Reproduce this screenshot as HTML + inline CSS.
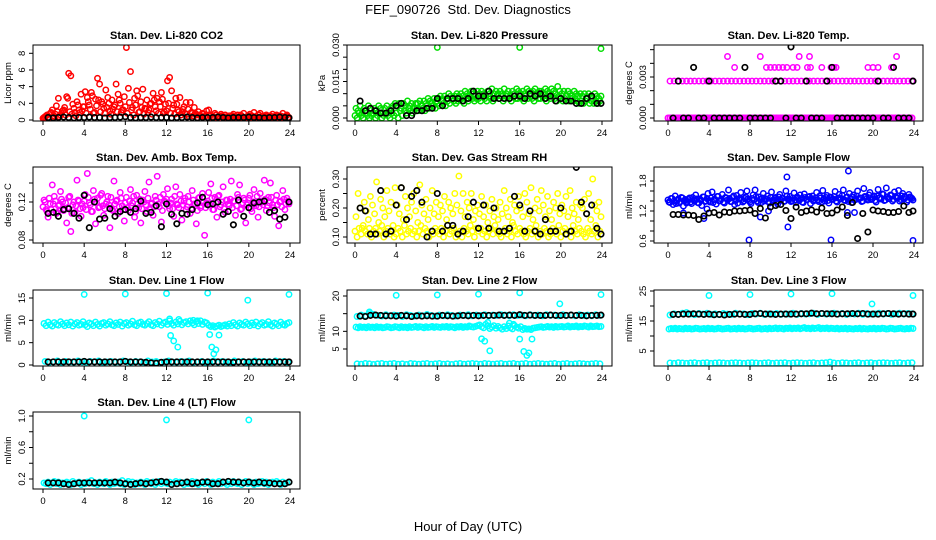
<!DOCTYPE html>
<html><head><meta charset="utf-8"><style>
html,body{margin:0;padding:0;background:#fff}
svg{display:block;font-family:"Liberation Sans",Arial,sans-serif}
</style></head><body>
<svg id="chart" width="936" height="540" viewBox="0 0 936 540" xmlns="http://www.w3.org/2000/svg">
<rect x="0" y="0" width="936" height="540" fill="#fff"/>
<text x="468" y="14" text-anchor="middle" font-size="13" xml:space="preserve">FEF_090726  Std. Dev. Diagnostics</text>
<text x="468" y="531" text-anchor="middle" font-size="13">Hour of Day (UTC)</text>
</svg>
<script>
const hours=[0.1,0.3,0.5,0.7,0.9,1.1,1.3,1.5,1.7,1.9,2.1,2.3,2.5,2.7,2.9,3.1,3.3,3.5,3.7,3.9,4.1,4.3,4.5,4.7,4.9,5.1,5.3,5.5,5.7,5.9,6.1,6.3,6.5,6.7,6.9,7.1,7.3,7.5,7.7,7.9,8.1,8.3,8.5,8.7,8.9,9.1,9.3,9.5,9.7,9.9,10.1,10.3,10.5,10.7,10.9,11.1,11.3,11.5,11.7,11.9,12.1,12.3,12.5,12.7,12.9,13.1,13.3,13.5,13.7,13.9,14.1,14.3,14.5,14.7,14.9,15.1,15.3,15.5,15.7,15.9,16.1,16.3,16.5,16.7,16.9,17.1,17.3,17.5,17.7,17.9,18.1,18.3,18.5,18.7,18.9,19.1,19.3,19.5,19.7,19.9,20.1,20.3,20.5,20.7,20.9,21.1,21.3,21.5,21.7,21.9,22.1,22.3,22.5,22.7,22.9,23.1,23.3,23.5,23.7,23.9];
const hours2=[0.0,0.2,0.4,0.6,0.8,1.0,1.2,1.4,1.6,1.8,2.0,2.2,2.4,2.6,2.8,3.0,3.2,3.4,3.6,3.8,4.0,4.2,4.4,4.6,4.8,5.0,5.2,5.4,5.6,5.8,6.0,6.2,6.4,6.6,6.8,7.0,7.2,7.4,7.6,7.8,8.0,8.2,8.4,8.6,8.8,9.0,9.2,9.4,9.6,9.8,10.0,10.2,10.4,10.6,10.8,11.0,11.2,11.4,11.6,11.8,12.0,12.2,12.4,12.6,12.8,13.0,13.2,13.4,13.6,13.8,14.0,14.2,14.4,14.6,14.8,15.0,15.2,15.4,15.6,15.8,16.0,16.2,16.4,16.6,16.8,17.0,17.2,17.4,17.6,17.8,18.0,18.2,18.4,18.6,18.8,19.0,19.2,19.4,19.6,19.8,20.0,20.2,20.4,20.6,20.8,21.0,21.2,21.4,21.6,21.8,22.0,22.2,22.4,22.6,22.8,23.0,23.2,23.4,23.6,23.8];
const hoursB=[0.2,0.6,1.0,1.4,1.8,2.2,2.6,3.0,3.4,3.8,4.2,4.6,5.0,5.4,5.8,6.2,6.6,7.0,7.4,7.8,8.2,8.6,9.0,9.4,9.8,10.2,10.6,11.0,11.4,11.8,12.2,12.6,13.0,13.4,13.8,14.2,14.6,15.0,15.4,15.8,16.2,16.6,17.0,17.4,17.8,18.2,18.6,19.0,19.4,19.8,20.2,20.6,21.0,21.4,21.8,22.2,22.6,23.0,23.4,23.8];
const hoursK=[0.5,1.0,1.5,2.0,2.5,3.0,3.5,4.0,4.5,5.0,5.5,6.0,6.5,7.0,7.5,8.0,8.5,9.0,9.5,10.0,10.5,11.0,11.5,12.0,12.5,13.0,13.5,14.0,14.5,15.0,15.5,16.0,16.5,17.0,17.5,18.0,18.5,19.0,19.5,20.0,20.5,21.0,21.5,22.0,22.5,23.0,23.5,23.9];
const xTicks=[0,4,8,12,16,20,24];

// Panel 1: CO2
const co2A=[0.3,0.5,0.2,0.8,1.2,0.4,1.7,2.6,0.6,1.1,1.5,2.8,5.6,5.3,1.9,0.9,2.2,1.2,3.1,1.6,3.4,2.7,1.8,3.3,0.8,2.5,5.0,4.3,2.2,1.4,3.6,2.7,1.1,2.4,1.6,4.3,3.1,2.0,1.2,2.8,8.7,3.8,5.8,1.5,2.6,3.5,0.9,2.2,3.7,1.4,2.4,1.2,2.0,3.2,1.6,2.6,2.2,3.3,0.8,1.9,4.7,5.1,3.5,1.8,2.6,1.2,2.7,0.9,1.6,2.1,1.3,2.1,0.8,1.5,0.6,1.0,0.5,0.8,0.4,1.1,1.2,0.6,0.4,0.8,0.3,0.5,0.7,0.4,0.6,0.3,0.5,0.4,0.7,0.3,0.6,0.4,0.5,0.8,0.3,0.4,0.7,0.5,0.9,0.4,0.6,0.8,0.3,0.5,0.6,0.4,0.5,0.7,0.4,0.6,0.3,0.5,0.8,0.4,0.6,0.3];
const co2B=[0.2,0.4,0.6,0.3,0.9,0.5,0.7,1.0,0.4,0.8,1.2,0.6,2.6,1.0,0.7,1.4,0.5,1.8,0.9,1.1,1.6,0.8,2.2,1.3,2.9,0.9,1.7,2.4,1.0,1.9,0.8,1.5,2.0,0.7,1.3,1.8,1.0,2.4,0.9,1.2,1.6,0.8,2.1,1.2,0.6,1.8,2.9,1.0,1.5,0.7,1.3,0.9,1.9,0.7,2.4,1.1,0.8,1.6,2.5,1.0,1.1,2.0,0.8,1.4,0.7,1.9,1.0,0.6,1.3,0.8,0.7,0.4,0.9,0.5,0.8,0.3,0.6,0.4,0.7,0.5,0.3,0.5,0.2,0.4,0.6,0.3,0.2,0.5,0.3,0.4,0.2,0.3,0.5,0.2,0.4,0.3,0.6,0.2,0.3,0.4,0.5,0.3,0.2,0.4,0.3,0.6,0.2,0.4,0.3,0.5,0.2,0.4,0.3,0.5,0.2,0.3,0.4,0.2,0.5,0.3];
const co2Black=[0.3,0.25,0.3,0.35,0.3,0.25,0.3,0.3,0.35,0.3,0.3,0.25,0.3,0.3,0.35,0.4,0.3,0.25,0.3,0.3,0.35,0.3,0.3,0.3,0.25,0.3,0.3,0.35,0.3,0.25,0.3,0.3,0.3,0.35,0.3,0.25,0.3,0.3,0.3,0.35,0.3,0.3,0.25,0.3,0.3,0.35,0.3,0.25];

// Panel 2: Pressure
const presA=[.004,.003,.005,.002,.004,.003,.005,.004,.002,.004,.003,.005,.004,.002,.004,.005,.003,.004,.005,.006,.005,.006,.004,.006,.005,.007,.005,.006,.004,.006,.006,.007,.005,.007,.006,.008,.007,.006,.008,.007,.008,.009,.007,.009,.008,.010,.009,.008,.009,.010,.009,.010,.009,.011,.010,.009,.011,.010,.009,.011,.010,.011,.010,.009,.011,.010,.012,.010,.011,.010,.011,.010,.012,.010,.011,.009,.011,.010,.012,.011,.010,.011,.010,.012,.011,.010,.011,.012,.010,.011,.011,.010,.012,.011,.010,.012,.011,.010,.013,.011,.010,.011,.009,.011,.010,.009,.011,.010,.009,.010,.009,.010,.008,.010,.009,.008,.010,.009,.008,.009];
const presB=[.001,.000,.002,.001,.000,.002,.001,.000,.001,.002,.000,.001,.002,.000,.001,.002,.001,.000,.002,.001,.002,.000,.003,.001,.003,.002,.004,.003,.002,.004,.004,.003,.005,.004,.003,.005,.004,.006,.005,.004,.006,.005,.007,.006,.005,.007,.006,.008,.007,.006,.007,.008,.007,.006,.008,.007,.009,.008,.007,.008,.008,.007,.009,.008,.007,.009,.008,.007,.008,.009,.008,.009,.007,.008,.009,.008,.007,.009,.008,.008,.009,.008,.007,.009,.008,.009,.008,.007,.009,.008,.008,.009,.008,.007,.009,.008,.009,.008,.007,.009,.008,.007,.008,.009,.007,.008,.007,.008,.007,.006,.007,.006,.007,.008,.006,.007,.006,.007,.006,.007];
const presOutX=[8.0,16.0,23.9];
const presOutY=[0.029,0.029,0.0285];
const presBlack=[.007,.003,.004,.003,.002,.002,.003,.005,.006,.001,.001,.003,.003,.004,.004,.008,.005,.008,.008,.008,.007,.008,.011,.009,.009,.011,.008,.008,.008,.008,.009,.009,.008,.010,.009,.010,.008,.009,.007,.008,.007,.007,.006,.006,.008,.009,.006,.006];

// Panel 3: Li-820 Temp
const tempHigh=[.0027,.0027,.0027,.0027,.0027,.0027,.0027,.0027,.0027,.0027,.0027,.0027,.0027,.0027,.0027,.0027,.0027,.0027,.0027,.0027,.0027,.0027,.0027,.0027,.0027,.0027,.0027,.0027,.0027,.0027,.0027,.0027,.0027,.0027,.0027,.0027,.0027,.0027,.0027,.0027,.0027,.0027,.0027,.0027,.0027,.0027,.0027,.0027,.0027,.0027,.0027,.0027,.0027,.0027,.0027,.0027,.0027,.0027,.0027,.0027];
const tempLow=[0,0,0,0,0,0,0,0,0,0,0,0,0,0,0,0,0,0,0,0,0,0,0,0,0,0,0,0,0,0,0,0,0,0,0,0,0,0,0,0,0,0,0,0,0,0,0,0,0,0,0,0,0,0,0,0,0,0,0,0];
const tempExtraX=[5.8,6.5,9.0,9.6,10.0,10.4,10.8,11.2,11.6,12.2,12.6,12.8,13.6,13.8,13.9,15.0,15.9,16.2,16.4,19.5,20.0,20.5,21.8,22.3];
const tempExtraY=[.0045,.0037,.0045,.0037,.0037,.0037,.0037,.0037,.0037,.0037,.0037,.0045,.0037,.0045,.0037,.0037,.0037,.0037,.0037,.0037,.0037,.0037,.0037,.0045];
const tempBlack=[0,.0027,0,0,.0037,0,0,.0027,0,0,0,0,0,0,.0037,0,0,0,0,0,.0027,.0027,0,.0052,0,0,.0027,0,0,0,.0027,.0037,0,0,0,0,0,0,0,0,.0027,0,0,.0037,0,0,0,.0027];

// Panel 4: Amb box temp
const ambA=[.122,.112,.104,.118,.138,.126,.108,.116,.131,.120,.113,.098,.125,.089,.117,.109,.143,.121,.105,.114,.128,.150,.119,.110,.132,.097,.124,.115,.129,.106,.118,.126,.093,.112,.142,.121,.108,.130,.116,.100,.125,.111,.133,.119,.104,.127,.114,.098,.122,.131,.110,.141,.118,.106,.126,.147,.115,.099,.128,.120,.134,.113,.123,.105,.136,.117,.128,.101,.121,.112,.126,.108,.132,.118,.097,.124,.114,.129,.085,.119,.130,.139,.112,.125,.104,.127,.117,.136,.109,.122,.116,.142,.121,.106,.128,.138,.113,.124,.098,.119,.127,.110,.133,.116,.104,.129,.120,.143,.111,.125,.140,.117,.105,.127,.095,.121,.132,.112,.124,.118];
const ambB=[.115,.120,.110,.124,.112,.118,.121,.109,.117,.123,.111,.119,.114,.126,.108,.120,.116,.122,.113,.118,.121,.112,.125,.117,.110,.123,.119,.114,.127,.116,.113,.120,.117,.125,.111,.118,.122,.115,.124,.112,.119,.114,.121,.116,.126,.110,.118,.123,.113,.120,.117,.124,.112,.119,.115,.122,.118,.125,.111,.121,.123,.116,.119,.113,.126,.118,.114,.121,.117,.124,.115,.120,.113,.122,.118,.111,.125,.116,.120,.114,.121,.117,.124,.112,.119,.126,.115,.120,.113,.122,.118,.123,.114,.121,.116,.125,.112,.119,.122,.117,.124,.113,.120,.118,.126,.115,.121,.117,.123,.116,.119,.125,.114,.122,.117,.120,.115,.123,.118,.121];
const ambBlack=[.108,.109,.105,.112,.113,.108,.103,.127,.093,.120,.102,.103,.113,.105,.110,.112,.109,.113,.121,.108,.109,.116,.094,.118,.107,.097,.108,.107,.112,.119,.125,.117,.118,.120,.107,.110,.096,.122,.105,.114,.119,.120,.121,.109,.111,.102,.104,.120];

// Panel 5: Gas stream RH
const rhA=[.17,.25,.20,.13,.22,.19,.16,.24,.21,.18,.29,.15,.23,.20,.17,.26,.19,.22,.14,.27,.21,.18,.27,.16,.24,.20,.17,.22,.25,.19,.15,.28,.21,.18,.23,.16,.20,.26,.18,.22,.17,.21,.19,.24,.16,.22,.20,.18,.25,.21,.31,.19,.25,.17,.22,.20,.25,.16,.19,.21,.18,.24,.17,.21,.15,.19,.23,.17,.20,.16,.22,.18,.26,.20,.17,.23,.15,.21,.19,.24,.20,.17,.25,.22,.18,.27,.16,.20,.23,.19,.26,.21,.17,.24,.19,.16,.22,.20,.25,.18,.21,.19,.24,.17,.26,.20,.18,.22,.16,.21,.20,.23,.18,.25,.16,.30,.21,.19,.22,.17];
const rhB=[.12,.10,.13,.11,.14,.12,.11,.13,.10,.12,.13,.11,.12,.14,.10,.12,.13,.11,.12,.10,.11,.13,.12,.10,.14,.11,.12,.13,.11,.12,.10,.12,.14,.11,.13,.12,.10,.12,.11,.13,.12,.11,.13,.10,.12,.14,.11,.12,.13,.10,.11,.12,.10,.13,.12,.11,.14,.12,.10,.13,.12,.13,.11,.12,.10,.12,.13,.11,.14,.12,.11,.10,.12,.13,.11,.12,.10,.14,.12,.11,.13,.12,.11,.10,.12,.13,.11,.12,.14,.10,.12,.11,.13,.12,.10,.11,.13,.12,.11,.14,.10,.12,.13,.11,.12,.10,.14,.12,.11,.13,.12,.11,.10,.13,.12,.11,.12,.14,.10,.12];
const rhBlack=[.20,.19,.11,.11,.26,.11,.12,.21,.27,.16,.24,.26,.22,.10,.12,.25,.12,.14,.14,.11,.12,.17,.22,.13,.21,.13,.20,.12,.12,.13,.24,.21,.12,.19,.12,.11,.16,.12,.12,.20,.11,.12,.34,.22,.18,.21,.13,.11];

// Panel 6: Sample flow
const flowA=[1.38,1.45,1.33,1.50,1.41,1.36,1.47,1.30,1.43,1.39,1.46,1.35,1.42,1.52,1.37,1.44,1.31,1.48,1.40,1.55,1.38,1.58,1.43,1.34,1.49,1.41,1.53,1.36,1.46,1.62,1.39,1.47,1.33,1.51,1.44,1.57,1.38,1.45,1.60,1.41,1.35,1.52,1.62,1.40,1.48,1.37,1.55,1.43,1.50,1.36,1.58,1.42,1.47,1.34,1.53,1.45,1.39,1.60,1.44,1.49,1.41,1.56,1.37,1.46,1.52,1.38,1.54,1.43,1.48,1.35,1.50,1.42,1.57,1.39,1.46,1.61,1.40,1.51,1.36,1.47,1.44,1.59,1.38,1.53,1.45,1.62,1.41,1.48,1.55,1.37,1.52,1.43,1.60,1.46,1.39,1.65,1.48,1.42,1.57,1.44,1.50,1.38,1.63,1.47,1.54,1.41,1.66,1.45,1.52,1.40,1.58,1.46,1.61,1.43,1.55,1.49,1.38,1.53,1.47,1.42];
const flowB=[1.42,1.37,1.45,1.40,1.35,1.44,1.39,1.46,1.41,1.36,1.43,1.38,1.47,1.40,1.44,1.36,1.42,1.48,1.39,1.45,1.41,1.46,1.37,1.43,1.49,1.40,1.44,1.38,1.47,1.42,1.45,1.39,1.50,1.41,1.36,1.46,1.43,1.40,1.48,1.44,1.38,1.45,1.42,1.49,1.37,1.43,1.46,1.40,1.44,1.39,1.47,1.41,1.45,1.38,1.48,1.42,1.46,1.40,1.50,1.43,1.39,1.46,1.42,1.48,1.41,1.45,1.37,1.47,1.43,1.49,1.44,1.40,1.46,1.42,1.50,1.38,1.45,1.47,1.41,1.48,1.43,1.49,1.40,1.46,1.44,1.51,1.42,1.47,1.39,1.45,1.48,1.42,1.50,1.44,1.46,1.40,1.49,1.45,1.52,1.43,1.47,1.41,1.50,1.46,1.44,1.53,1.42,1.48,1.45,1.51,1.43,1.49,1.46,1.40,1.50,1.44,1.47,1.42,1.48,1.45];
const flowOutX=[1.5,3.5,3.8,7.9,9.0,9.8,11.6,11.7,15.9,17.6,17.5,18.2,23.9];
const flowOutY=[1.16,1.05,1.24,0.62,1.08,1.20,1.88,0.88,0.62,2.0,1.17,1.17,0.61];
const flowBlack=[1.13,1.13,1.12,1.12,1.11,1.03,1.10,1.16,1.17,1.12,1.18,1.17,1.20,1.20,1.21,1.22,1.15,1.25,1.06,1.28,1.31,1.33,1.21,1.05,1.28,1.17,1.20,1.22,1.18,1.26,1.15,1.16,1.22,1.28,1.11,1.37,0.65,1.15,0.78,1.22,1.20,1.19,1.17,1.17,1.19,1.30,1.17,1.20];

// Panel 7: Line 1
const l1Hi=[9.3,8.8,9.6,9.0,8.7,9.5,9.1,8.9,9.7,9.2,8.8,9.4,9.0,9.6,8.7,9.2,9.5,8.9,9.1,9.7,9.0,8.6,9.4,9.2,8.8,9.6,9.1,8.7,9.3,9.5,8.9,9.2,9.7,9.0,8.8,9.4,9.1,9.6,8.7,9.3,9.5,8.9,9.2,9.8,9.0,8.8,9.4,9.6,9.1,8.9,9.3,9.7,9.0,8.8,9.5,9.2,9.8,8.9,9.4,9.6,9.1,9.9,9.3,8.9,9.6,9.2,9.8,9.0,9.5,9.7,9.2,9.9,9.4,9.0,9.7,9.3,9.9,9.1,9.6,9.4,8.9,8.6,8.8,8.5,8.7,8.9,8.6,8.8,9.0,8.7,9.2,8.8,9.5,9.0,8.7,9.4,9.1,8.9,9.6,9.2,8.8,9.4,9.0,9.6,8.7,9.2,9.5,8.9,9.1,9.7,9.0,8.7,9.4,9.2,8.8,9.6,9.1,8.9,9.3,9.5];
const l1Lo=[0.8,0.6,0.7,0.9,0.6,0.8,0.7,0.6,0.9,0.7,0.6,0.8,0.7,0.9,0.6,0.7,0.8,0.6,0.7,0.9,0.7,0.6,0.8,0.7,0.6,0.9,0.7,0.8,0.6,0.7,0.9,0.7,0.6,0.8,0.7,0.9,0.6,0.7,0.8,0.6,0.7,0.9,0.6,0.8,0.7,0.6,0.9,0.7,0.8,0.6,0.7,0.9,0.6,0.8,0.7,0.6,0.9,0.7,0.8,0.6];
const l1OutX=[4,8,12,16,19.9,23.9,12.4,12.7,13.1,16.2,16.4,16.6,16.8,17.1,12.3,13.2,15.0,14.6];
const l1OutY=[15.8,15.9,16.0,16.1,14.5,15.8,6.6,5.4,4.0,6.8,4.0,2.5,3.4,6.7,10.3,10.2,9.9,10.0];
const l1Black=[0.7,0.7,0.7,0.7,0.7,0.7,0.7,0.8,0.7,0.7,0.7,0.7,0.7,0.7,0.7,0.8,0.7,0.7,0.7,0.6,0.5,0.4,0.6,0.7,0.7,0.7,0.7,0.7,0.7,0.7,0.7,0.7,0.7,0.7,0.7,0.7,0.6,0.7,0.7,0.7,0.7,0.7,0.7,0.7,0.7,0.7,0.7,0.7];

// Panel 8: Line 2
const l2Top=[14.2,14.6,14.4,15.0,14.8,14.5,14.3,14.7,14.4,14.6,14.5,14.2,14.7,14.5,14.3,14.6,14.4,14.8,14.5,14.3,14.6,14.4,14.7,14.5,14.3,14.6,14.5,14.7,14.4,14.6,14.5,14.7,14.4,14.6,14.5,14.7,14.6,14.4,14.7,14.5,14.6,14.4,14.7,14.5,14.6,14.4,14.7,14.5,14.6,14.4,14.7,14.5,14.6,14.4,14.7,14.5,14.6,14.4,14.7,14.5];
const l2Mid=[11.2,11.0,11.3,11.1,11.2,11.0,11.3,11.1,11.2,11.0,11.3,11.1,11.2,11.0,11.1,11.3,11.2,11.0,11.1,11.3,11.2,11.0,11.3,11.1,11.2,11.0,11.3,11.1,11.2,11.4,11.1,11.3,11.2,11.0,11.3,11.1,11.2,11.4,11.1,11.3,11.2,11.1,11.3,11.2,11.4,11.1,11.3,11.2,11.0,11.3,11.2,11.4,11.1,11.3,11.2,11.5,11.3,11.2,11.4,11.6,11.8,11.3,11.0,12.0,11.5,10.8,11.2,11.6,10.9,11.4,11.0,10.6,11.3,10.8,11.5,11.0,10.7,11.6,11.2,10.9,11.3,10.5,10.8,10.6,10.7,10.5,10.9,11.0,11.1,11.2,11.3,11.1,11.2,11.4,11.2,11.3,11.1,11.4,11.2,11.3,11.4,11.2,11.3,11.5,11.2,11.4,11.3,11.5,11.2,11.4,11.3,11.5,11.4,11.2,11.5,11.3,11.4,11.5,11.3,11.4];
const l2Lo=[0.8,0.7,0.9,0.8,0.6,0.8,0.9,0.7,0.8,0.9,0.7,0.8,0.6,0.9,0.8,0.7,0.8,0.9,0.7,0.8,0.9,0.7,0.8,0.6,0.8,0.9,0.7,0.8,0.9,0.8,0.7,0.9,0.8,0.7,0.8,0.9,0.7,0.8,0.9,0.7,0.8,0.9,0.7,0.8,0.9,0.8,0.7,0.8,0.9,0.7,0.8,0.9,0.7,0.8,0.9,0.8,0.7,0.8,0.9,0.8];
const l2OutX=[4,8,12,16,19.9,23.9,12.3,12.6,13.1,16.0,16.4,16.7,16.9,17.2,12.9,15.0,15.4,1.4];
const l2OutY=[20.2,20.3,20.5,20.9,17.8,20.4,7.9,7.2,4.5,7.8,4.3,3.2,3.9,7.8,12.5,12.3,12.0,15.5];
const l2Black=[14.3,14.2,14.5,14.6,14.5,14.4,14.4,14.3,14.5,14.4,14.2,14.4,14.3,14.4,14.3,14.3,14.5,14.4,14.3,14.4,14.5,14.4,14.5,14.4,14.5,14.5,14.5,14.6,14.5,14.6,14.5,14.7,14.5,14.6,14.5,14.5,14.5,14.6,14.5,14.5,14.5,14.6,14.5,14.5,14.4,14.5,14.5,14.6];

// Panel 9: Line 3
const l3Top=[17.0,17.4,17.2,17.6,17.8,17.3,17.1,17.5,17.3,17.6,17.2,17.4,17.1,17.5,17.3,17.2,17.6,17.3,17.4,17.1,17.5,17.3,17.6,17.2,17.4,17.3,17.5,17.2,17.4,17.3,17.6,17.2,17.5,17.3,17.4,17.6,17.2,17.5,17.3,17.4,17.6,17.3,17.5,17.2,17.4,17.3,17.6,17.2,17.5,17.3,17.4,17.6,17.3,17.5,17.2,17.4,17.6,17.3,17.5,17.4];
const l3Mid=[12.3,12.5,12.4,12.6,12.3,12.5,12.4,12.3,12.6,12.4,12.5,12.3,12.4,12.6,12.5,12.3,12.4,12.5,12.3,12.6,12.4,12.5,12.3,12.4,12.6,12.5,12.3,12.4,12.5,12.6,12.3,12.4,12.5,12.3,12.6,12.4,12.5,12.3,12.4,12.6,12.5,12.3,12.4,12.5,12.6,12.3,12.4,12.5,12.3,12.6,12.4,12.5,12.7,12.4,12.6,12.5,12.3,12.6,12.5,12.7,12.4,12.6,12.5,12.7,12.4,12.6,12.8,12.5,12.6,12.4,12.7,12.5,12.6,12.8,12.4,12.6,12.5,12.7,12.4,12.6,12.5,12.4,12.6,12.3,12.5,12.4,12.6,12.3,12.5,12.4,12.3,12.5,12.4,12.6,12.3,12.5,12.4,12.3,12.5,12.4,12.6,12.3,12.5,12.4,12.6,12.5,12.3,12.4,12.6,12.5,12.3,12.4,12.5,12.6,12.4,12.3,12.5,12.4,12.6,12.5];
const l3Lo=[1.0,0.9,1.1,1.0,0.9,1.0,1.1,0.9,1.0,1.1,0.9,1.0,1.1,1.0,0.9,1.0,1.1,1.0,0.9,1.0,1.1,1.0,0.9,1.0,1.1,0.9,1.0,1.0,1.1,0.9,1.0,1.1,1.0,0.9,1.0,1.1,0.9,1.0,1.1,1.3,1.0,0.9,1.1,1.0,0.9,1.0,1.1,0.9,1.0,1.1,0.9,1.0,1.1,1.0,0.9,1.0,1.1,0.9,1.0,1.1];
const l3OutX=[4,8,12,16,19.9,23.9];
const l3OutY=[23.5,23.8,24.0,24.1,20.7,23.5];
const l3Black=[17.2,17.2,17.3,17.3,17.4,17.3,17.2,17.3,17.1,17.2,17.0,17.2,17.3,17.3,17.2,17.2,17.4,17.5,17.3,17.3,17.2,17.3,17.3,17.3,17.3,17.4,17.4,17.6,17.4,17.5,17.4,17.4,17.3,17.4,17.4,17.5,17.4,17.5,17.3,17.3,17.3,17.4,17.5,17.4,17.3,17.4,17.3,17.3];

// Panel 10: Line 4
const l4=[0.15,0.14,0.16,0.13,0.15,0.17,0.14,0.16,0.13,0.15,0.14,0.16,0.15,0.13,0.17,0.14,0.15,0.16,0.13,0.15,0.14,0.16,0.15,0.18,0.14,0.15,0.13,0.16,0.15,0.14,0.17,0.15,0.13,0.16,0.14,0.15,0.16,0.14,0.18,0.13,0.15,0.17,0.14,0.16,0.13,0.15,0.14,0.16,0.15,0.13,0.17,0.15,0.14,0.16,0.13,0.15,0.17,0.14,0.16,0.15,0.14,0.16,0.13,0.15,0.17,0.14,0.16,0.15,0.13,0.16,0.14,0.15,0.17,0.14,0.16,0.13,0.15,0.16,0.14,0.17,0.15,0.13,0.16,0.14,0.15,0.17,0.14,0.16,0.15,0.13,0.16,0.14,0.17,0.15,0.14,0.16,0.13,0.15,0.17,0.14,0.16,0.15,0.13,0.16,0.14,0.15,0.17,0.14,0.16,0.13,0.15,0.16,0.14,0.17,0.15,0.13,0.16,0.14,0.15,0.16];
const l4OutX=[4,12,20];
const l4OutY=[1.0,0.95,0.95];
const l4Black=[0.15,0.15,0.15,0.14,0.13,0.14,0.15,0.15,0.15,0.15,0.15,0.15,0.15,0.16,0.15,0.14,0.13,0.14,0.15,0.14,0.15,0.16,0.17,0.16,0.13,0.14,0.15,0.16,0.14,0.15,0.16,0.16,0.14,0.14,0.16,0.17,0.16,0.16,0.15,0.16,0.15,0.16,0.15,0.15,0.14,0.14,0.14,0.16];

const NS='http://www.w3.org/2000/svg';
const svg=document.getElementById('chart');
function mk(tag,attrs,parent){const e=document.createElementNS(NS,tag);for(const k in attrs)e.setAttribute(k,attrs[k]);(parent||svg).appendChild(e);return e;}

const colBox=[[33,300,43,290],[347,612,355,602],[654,923,668,914]];
const rowBox=[[45,121],[167,243],[290,366],[412,489]];

const panels=[
 {key:'co2',col:0,row:0,title:'Stan. Dev. Li-820 CO2',ylab:'Licor ppm',a:[0,120],b:[8,53.3],ticks:[0,2,4,6,8],labels:[0,2,4,6,8],fmt:v=>String(v),
  series:[[hours,co2A,'#ff0000'],[hours2,co2B,'#ff0000'],[hoursK,co2Black,'#000']]},
 {key:'pressure',col:1,row:0,title:'Stan. Dev. Li-820 Pressure',ylab:'kPa',a:[0,118],b:[0.03,45],ticks:[0,.005,.01,.015,.02,.025,.03],labels:[0,.015,.03],fmt:v=>v.toFixed(3),
  series:[[hours,presA,'#00dd00'],[hours2,presB,'#00dd00'],[presOutX,presOutY,'#00dd00'],[hoursK,presBlack,'#000']]},
 {key:'li820-temp',col:2,row:0,title:'Stan. Dev. Li-820 Temp.',ylab:'degrees C',a:[0,118],b:[0.003,77],ticks:[0,.001,.002,.003,.004,.005],labels:[0,.003],fmt:v=>v.toFixed(3),
  series:[[hoursB,tempHigh,'#ff00ff'],[hoursB,tempLow,'#ff00ff'],[hours2,tempLow.concat(tempLow),'#ff00ff'],[tempExtraX,tempExtraY,'#ff00ff'],[hoursK,tempBlack,'#000']]},
 {key:'amb-box-temp',col:0,row:1,title:'Stan. Dev. Amb. Box Temp.',ylab:'degrees C',a:[0.08,240],b:[0.12,202],ticks:[.08,.10,.12,.14],labels:[.08,.12],fmt:v=>v.toFixed(2),
  series:[[hours,ambA,'#ff00ff'],[hours2,ambB,'#ff00ff'],[hoursK,ambBlack,'#000']]},
 {key:'gas-stream-rh',col:1,row:1,title:'Stan. Dev. Gas Stream RH',ylab:'percent',a:[0.1,237],b:[0.3,179],ticks:[.10,.15,.20,.25,.30],labels:[.10,.20,.30],fmt:v=>v.toFixed(2),
  series:[[hours,rhA,'#ffff00'],[hours2,rhB,'#ffff00'],[hoursK,rhBlack,'#000']]},
 {key:'sample-flow',col:2,row:1,title:'Stan. Dev. Sample Flow',ylab:'ml/min',a:[0.6,241],b:[1.8,181],ticks:[.6,.8,1.0,1.2,1.4,1.6,1.8],labels:[.6,1.2,1.8],fmt:v=>v.toFixed(1),
  series:[[hours,flowA,'#0000ff'],[hours2,flowB,'#0000ff'],[flowOutX,flowOutY,'#0000ff'],[hoursK,flowBlack,'#000']]},
 {key:'line1-flow',col:0,row:2,title:'Stan. Dev. Line 1 Flow',ylab:'ml/min',a:[0,365],b:[15,298],ticks:[0,5,10,15],labels:[0,5,10,15],fmt:v=>String(v),
  series:[[hours,l1Hi,'#00ffff'],[hoursB,l1Lo,'#00ffff'],[l1OutX,l1OutY,'#00ffff'],[hoursK,l1Black,'#000']]},
 {key:'line2-flow',col:1,row:2,title:'Stan. Dev. Line 2 Flow',ylab:'ml/min',a:[5,349],b:[20,296],ticks:[5,10,15,20],labels:[5,10,20],fmt:v=>String(v),
  series:[[hoursB,l2Top,'#00ffff'],[hours,l2Mid,'#00ffff'],[hoursB,l2Lo,'#00ffff'],[l2OutX,l2OutY,'#00ffff'],[hoursK,l2Black,'#000']]},
 {key:'line3-flow',col:2,row:2,title:'Stan. Dev. Line 3 Flow',ylab:'ml/min',a:[5,351],b:[25,291],ticks:[5,10,15,20,25],labels:[5,15,25],fmt:v=>String(v),
  series:[[hoursB,l3Top,'#00ffff'],[hours,l3Mid,'#00ffff'],[hoursB,l3Lo,'#00ffff'],[l3OutX,l3OutY,'#00ffff'],[hoursK,l3Black,'#000']]},
 {key:'line4-flow',col:0,row:3,title:'Stan. Dev. Line 4 (LT) Flow',ylab:'ml/min',a:[0.2,479],b:[1.0,416],ticks:[.2,.4,.6,.8,1.0],labels:[.2,.6,1.0],fmt:v=>v.toFixed(1),
  series:[[hours,l4,'#00ffff'],[l4OutX,l4OutY,'#00ffff'],[hoursK,l4Black,'#000']]}
];

panels.forEach(p=>{
  const [L,R,x0,x24]=colBox[p.col];
  const [T,B]=rowBox[p.row];
  const xs=t=>x0+(x24-x0)*t/24;
  const ys=v=>p.a[1]+(p.b[1]-p.a[1])*(v-p.a[0])/(p.b[0]-p.a[0]);
  const g=mk('g',{});
  
  
  const clip=mk('clipPath',{id:'clip-'+p.key},g);
  mk('rect',{x:L,y:T,width:R-L,height:B-T},clip);
  const t=mk('text',{x:(L+R)/2,y:T-6,'text-anchor':'middle','font-size':'11','font-weight':'bold'},g);
  t.textContent=p.title;
  
  
  const pts=mk('g',{'clip-path':'url(#clip-'+p.key+')',fill:'none'},g);
  
  
  p.series.forEach(s=>{
    const [X,Y,c]=s;
    const black=c==='#000';
    for(let i=0;i<Y.length&&i<X.length;i++){
      if(Y[i]==null)continue;
      const ci=mk('circle',{cx:xs(X[i]).toFixed(1),cy:ys(Y[i]).toFixed(1),r:2.7,stroke:c,'stroke-width':black?1.7:1.5},pts);
      
      
    }
  });
  const box=mk('rect',{x:L,y:T,width:R-L,height:B-T,fill:'none',stroke:'#000','stroke-width':1},g);
  
  
  xTicks.forEach(v=>{
    const x=xs(v);
    mk('line',{x1:x,x2:x,y1:B,y2:B+4,stroke:'#000'},g);
    const tx=mk('text',{x:x,y:B+15,'text-anchor':'middle','font-size':'9.5'},g);
    tx.textContent=String(v);
    
    
  });
  p.ticks.forEach(v=>{
    const y=ys(v);
    mk('line',{x1:L-4,x2:L,y1:y,y2:y,stroke:'#000'},g);
  });
  p.labels.forEach(v=>{
    const y=ys(v);
    const ty=mk('text',{x:L-8,y:y,'text-anchor':'middle','font-size':'9.5',transform:'rotate(-90 '+(L-8)+' '+y+')'},g);
    ty.textContent=p.fmt(v);
    
    
  });
  const cy=(T+B)/2;
  const yl=mk('text',{x:L-22,y:cy,'text-anchor':'middle','font-size':'9.5',transform:'rotate(-90 '+(L-22)+' '+cy+')'},g);
  yl.textContent=p.ylab;
  
  
});
</script>
</body></html>
